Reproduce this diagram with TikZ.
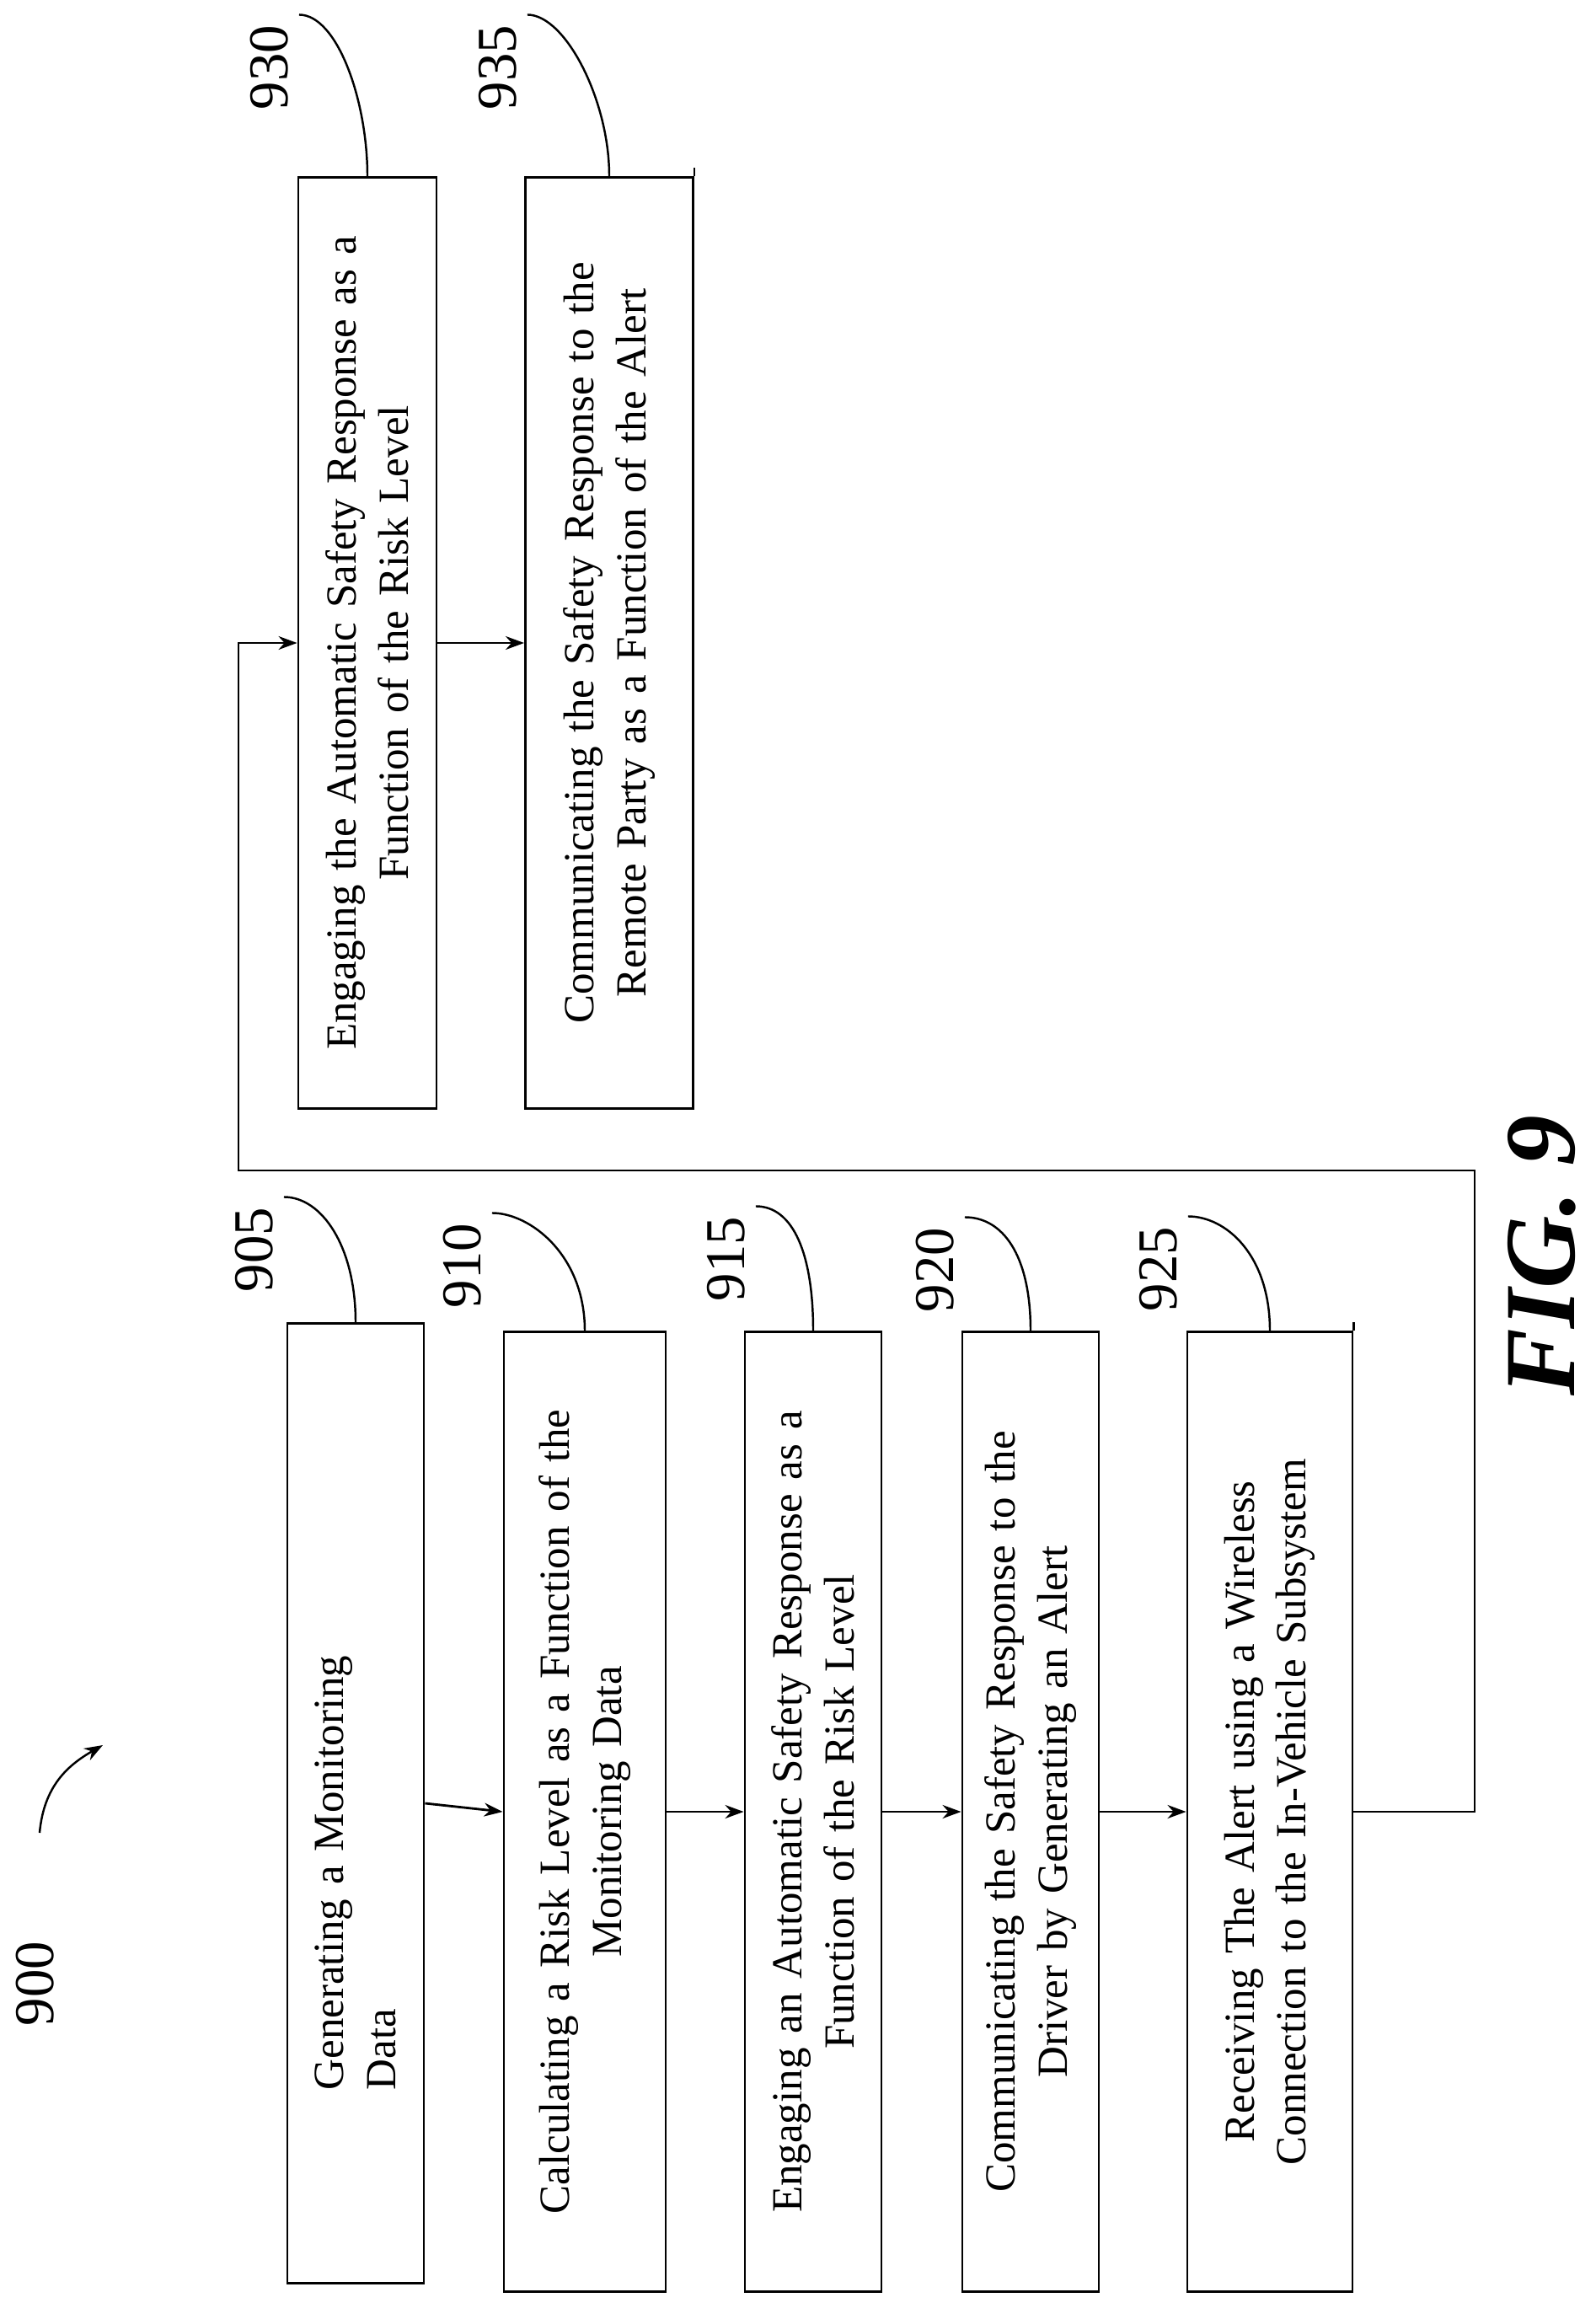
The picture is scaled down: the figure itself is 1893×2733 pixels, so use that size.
\documentclass[tikz,border=0pt]{standalone}
\usepackage{fontspec}
\setmainfont{Liberation Serif}
\usetikzlibrary{arrows.meta}
\tikzset{
  stepbox/.style={draw, line width=0.8pt, rotate=90, align=center, inner sep=0pt,
    font=\fontsize{14.5}{17.5}\selectfont},
  refnum/.style={rotate=90, font=\fontsize{19}{19}\selectfont},
  flow/.style={line width=0.8pt, -{Stealth[length=2.2mm,width=1.6mm]}},
  leader/.style={line width=0.7pt}
}
\begin{document}
\begin{tikzpicture}[x=0.01cm,y=-0.01cm]
\useasboundingbox (0,0) rectangle (1893,2733);
% lower row of steps
\node[stepbox, minimum width=11.38cm, minimum height=1.62cm, text width=6.8cm, align=left] (b905) at (422,2140)
  {Generating a Monitoring\\Data};
\node[stepbox, minimum width=11.38cm, minimum height=1.92cm, text width=11cm] (b910) at (694,2150)
  {Calculating a Risk Level as a Function of the\\Monitoring Data};
\node[stepbox, minimum width=11.38cm, minimum height=1.62cm, text width=11cm] (b915) at (965,2150)
  {Engaging an Automatic Safety Response as a\\Function of the Risk Level};
\node[stepbox, minimum width=11.38cm, minimum height=1.62cm, text width=11cm] (b920) at (1223,2150)
  {Communicating the Safety Response to the\\Driver by Generating an Alert};
\node[stepbox, minimum width=11.38cm, minimum height=1.96cm, text width=11cm] (b925) at (1507,2150)
  {Receiving The Alert using a Wireless\\Connection to the In-Vehicle Subsystem};
% upper row of steps
\node[stepbox, minimum width=11.05cm, minimum height=1.64cm, text width=10.6cm] (b930) at (436,763)
  {Engaging the Automatic Safety Response as a\\Function of the Risk Level};
\node[stepbox, minimum width=11.05cm, minimum height=1.99cm, text width=10.6cm] (b935) at (723,763)
  {Communicating the Safety Response to the\\Remote Party as a Function of the Alert};
\draw[line width=0.8pt] (b925.south east) -- ++(0,-10);
\draw[line width=0.8pt] (b935.south east) -- ++(0,-10);

% reference numerals
\node[refnum] (l900) at (42,2354) {900};
\node[refnum] (l905) at (302,1483) {905};
\node[refnum] (l910) at (549,1502) {910};
\node[refnum] (l915) at (862,1494) {915};
\node[refnum] (l920) at (1110,1507) {920};
\node[refnum] (l925) at (1375,1506) {925};
\node[refnum] (l930) at (320,80) {930};
\node[refnum] (l935) at (591,80) {935};
\foreach \n in {905,910,915,920,925,930,935}
  \draw[leader] (l\n.south east) .. controls +(45,0) and +(0,-90) .. (b\n.east);
\draw[flow, line width=0.7pt] (47,2175) .. controls (52,2120) and (80,2095) .. (122,2071);

% connectors
\draw[flow] (b905.south) -- (b910.north);
\draw[flow] (b910.south) -- (b915.north);
\draw[flow] (b915.south) -- (b920.north);
\draw[flow] (b920.south) -- (b925.north);
\coordinate (fbr) at (1750,1389);
\coordinate (fbl) at (283,1389);
\draw[flow] (b925.south) -| (fbr) -- (fbl) |- (b930.north);
\draw[flow] (b930.south) -- (b935.north);

\node[rotate=90, font=\fontsize{34}{34}\selectfont\bfseries\itshape] (fig) at (1830,1490) {FIG. 9};
\end{tikzpicture}
\end{document}
